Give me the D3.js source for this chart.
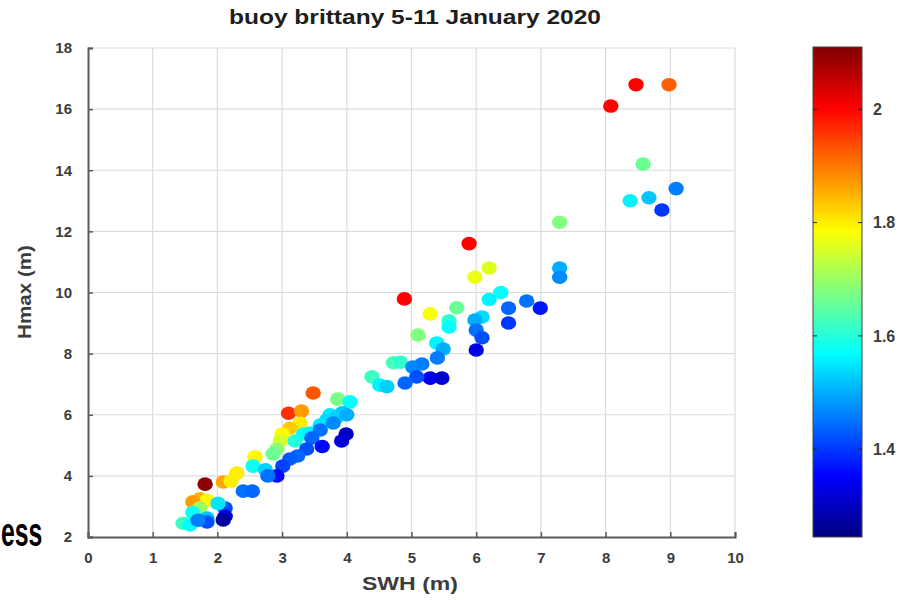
<!DOCTYPE html>
<html>
<head>
<meta charset="utf-8">
<script src="https://cdn.jsdelivr.net/npm/d3@7"></script>
<style>
  html, body { margin: 0; padding: 0; background: #fff; }
  svg { display: block; }
  text { font-family: "Liberation Sans", Arial, Helvetica, sans-serif; }
</style>
</head>
<body>
<script>
// Significant wave height (m) per record
const swh = [
  8.47, 8.98, 8.08, 8.58, 8.38, 8.67, 9.09, 8.87,
  7.29, 7.29, 7.29,
  5.89, 6.20, 5.98, 6.38, 6.20, 6.78, 6.99, 6.50, 6.50, 6.09, 5.98, 6.00, 6.09, 6.00,
  4.89, 5.29, 5.70, 5.58, 5.58, 5.10, 5.39, 5.49, 5.40,
  4.72, 4.83, 5.02, 5.16, 5.29, 5.47, 5.08, 4.90, 4.39, 4.51, 4.62,
  3.48, 3.86, 4.05, 3.93, 3.74, 3.69, 3.59,
  3.10, 3.30, 3.28, 3.12, 3.00, 2.97, 2.92, 2.86,
  3.20, 3.33, 3.43, 3.85, 4.00,
  3.79, 3.59, 3.46, 3.99, 3.92, 3.62, 3.38, 3.24, 3.12, 3.01, 2.92,
  2.58, 2.30, 2.09, 2.21, 2.55, 2.74, 2.78, 2.40, 2.54,
  1.81, 1.73, 1.84, 1.62, 1.73, 1.62, 1.84, 1.47, 1.58, 1.84, 2.12, 2.12, 2.09, 2.01, 1.70
];
// Maximum individual wave height (m) per record
const hmax = [
  16.8, 16.8, 16.1, 14.2, 13.0, 13.1, 13.4, 12.7,
  12.3, 10.8, 10.5,
  11.6, 10.8, 10.5, 10.0, 9.77, 9.72, 9.49, 9.49, 9.00, 9.20, 9.10, 8.77, 8.52, 8.12,
  9.79, 9.30, 9.50, 9.07, 8.87, 8.61, 8.35, 8.15, 7.86,
  7.70, 7.72, 7.56, 7.66, 7.20, 7.20, 7.24, 7.04, 7.24, 6.97, 6.92,
  6.71, 6.51, 6.42, 6.06, 6.00, 5.83, 5.66,
  6.05, 6.12, 5.72, 5.56, 5.37, 5.14, 4.88, 4.72,
  5.14, 5.37, 5.40, 5.93, 6.00,
  5.73, 5.50, 5.24, 5.37, 5.14, 4.96, 4.88, 4.65, 4.55, 4.32, 4.00,
  4.62, 4.09, 3.80, 3.83, 4.32, 4.20, 4.00, 3.50, 3.50,
  3.73, 3.25, 3.20, 3.15, 2.95, 2.80, 2.62, 2.45, 2.40, 2.49, 2.95, 2.68, 2.56, 3.10, 2.55
];
// Hmax / SWH ratio, shown as colour
const ratio = [
  2.00, 1.92, 2.00, 1.66, 1.56, 1.52, 1.46, 1.40,
  1.68, 1.50, 1.47,
  2.00, 1.76, 1.77, 1.57, 1.56, 1.45, 1.37, 1.44, 1.40, 1.54, 1.50, 1.45, 1.42, 1.33,
  2.00, 1.78, 1.66, 1.61, 1.57, 1.68, 1.56, 1.50, 1.46,
  1.63, 1.61, 1.47, 1.46, 1.34, 1.31, 1.42, 1.44, 1.62, 1.56, 1.53,
  1.93, 1.67, 1.57, 1.52, 1.55, 1.54, 1.55,
  1.96, 1.87, 1.80, 1.83, 1.79, 1.75, 1.69, 1.66,
  1.60, 1.58, 1.56, 1.53, 1.50,
  1.47, 1.45, 1.44, 1.30, 1.32, 1.36, 1.42, 1.44, 1.43, 1.41, 1.36,
  1.79, 1.80, 1.86, 1.80, 1.58, 1.53, 1.45, 1.45, 1.44,
  2.10, 1.85, 1.79, 1.87, 1.70, 1.58, 1.52, 1.62, 1.57, 1.42, 1.42, 1.33, 1.27, 1.55, 1.46
];

const xTicks = [0, 1, 2, 3, 4, 5, 6, 7, 8, 9, 10];
const yTicks = [2, 4, 6, 8, 10, 12, 14, 16, 18];
const cTicks = [1.4, 1.6, 1.8, 2];
const cDomain = [1.245, 2.11];

const chartTitle = "buoy brittany 5-11 January 2020";
const xTitle = "SWH (m)";
const yTitle = "Hmax (m)";
const sideWord = "ess";

const W = 921, H = 600;
const plot = { left: 88, right: 735, top: 48, bottom: 537 };
const bar = { left: 813, right: 862, top: 47, bottom: 537 };

// MATLAB-style jet colormap
function jet(t) {
  const c = v => Math.max(0, Math.min(1, v));
  const r = c(Math.min(4 * t - 1.5, -4 * t + 4.5));
  const g = c(Math.min(4 * t - 0.5, -4 * t + 3.5));
  const b = c(Math.min(4 * t + 0.5, -4 * t + 2.5));
  return d3.rgb(r * 255, g * 255, b * 255).formatHex();
}

const svg = d3.select("body").append("svg").attr("width", W).attr("height", H);

const x = d3.scaleLinear().domain([0, 10]).range([plot.left, plot.right]);
const y = d3.scaleLinear().domain([2, 18]).range([plot.bottom, plot.top]);
const cNorm = d3.scaleLinear().domain(cDomain).range([0, 1]).clamp(true);
const color = v => jet(cNorm(v));

// grid
const grid = svg.append("g").attr("stroke", "#dcdcdc").attr("stroke-width", 1.2);
grid.selectAll(".gx").data(xTicks.slice(1)).join("line")
  .attr("x1", d => x(d)).attr("x2", d => x(d))
  .attr("y1", plot.top).attr("y2", plot.bottom);
grid.selectAll(".gy").data(yTicks.slice(1)).join("line")
  .attr("x1", plot.left).attr("x2", plot.right)
  .attr("y1", d => y(d)).attr("y2", d => y(d));

// axes
const axisColor = "#5a5a5a";
const xAxis = svg.append("g").attr("transform", `translate(0,${plot.bottom})`)
  .call(d3.axisBottom(x).tickValues(xTicks).tickSize(-5).tickPadding(15).tickFormat(d3.format("d")));
const yAxis = svg.append("g").attr("transform", `translate(${plot.left},0)`)
  .call(d3.axisLeft(y).tickValues(yTicks).tickSize(-5).tickPadding(16).tickFormat(d3.format("d")));
[xAxis, yAxis].forEach(a => {
  a.select(".domain").attr("stroke", axisColor).attr("stroke-width", 2);
  a.selectAll(".tick line").attr("stroke", axisColor).attr("stroke-width", 1.5);
  a.selectAll(".tick text").attr("font-size", 15).attr("font-weight", "bold")
    .attr("fill", "#3c3c3c").attr("font-family", "'Liberation Sans', Arial, sans-serif");
});
xAxis.selectAll(".tick text").attr("dy", "0.71em");

// points
svg.append("g").selectAll("ellipse").data(swh.map((s, i) => ({ s, h: hmax[i], r: ratio[i] })))
  .join("ellipse")
  .attr("cx", d => x(d.s)).attr("cy", d => y(d.h))
  .attr("rx", 7.7).attr("ry", 6.8)
  .attr("fill", d => color(d.r));

// titles
svg.append("text").attr("x", 415).attr("y", 24).attr("text-anchor", "middle")
  .attr("font-size", 20).attr("font-weight", "bold").attr("fill", "#1e1e1e")
  .attr("textLength", 372).attr("lengthAdjust", "spacingAndGlyphs")
  .text(chartTitle);
svg.append("text").attr("x", 410).attr("y", 590).attr("text-anchor", "middle")
  .attr("font-size", 18).attr("font-weight", "bold").attr("fill", "#3c3c3c")
  .attr("textLength", 96).attr("lengthAdjust", "spacingAndGlyphs")
  .text(xTitle);
svg.append("text").attr("transform", "translate(31,292) rotate(-90)").attr("text-anchor", "middle")
  .attr("font-size", 18).attr("font-weight", "bold").attr("fill", "#3c3c3c")
  .attr("textLength", 94).attr("lengthAdjust", "spacingAndGlyphs")
  .text(yTitle);

// colorbar
const defs = svg.append("defs");
const grad = defs.append("linearGradient").attr("id", "jetbar")
  .attr("x1", 0).attr("y1", 1).attr("x2", 0).attr("y2", 0);
d3.range(0, 1.0001, 1 / 64).forEach(t => {
  grad.append("stop").attr("offset", t).attr("stop-color", jet(t));
});
svg.append("rect").attr("x", bar.left).attr("y", bar.top)
  .attr("width", bar.right - bar.left).attr("height", bar.bottom - bar.top)
  .attr("fill", "url(#jetbar)").attr("stroke", "#444").attr("stroke-width", 1);

const cy = d3.scaleLinear().domain(cDomain).range([bar.bottom, bar.top]);
const cb = svg.append("g");
cb.selectAll(".tl").data(cTicks).join("line")
  .attr("x1", bar.left).attr("x2", bar.left + 4)
  .attr("y1", d => cy(d)).attr("y2", d => cy(d)).attr("stroke", "#222");
cb.selectAll(".tr").data(cTicks).join("line")
  .attr("x1", bar.right - 4).attr("x2", bar.right)
  .attr("y1", d => cy(d)).attr("y2", d => cy(d)).attr("stroke", "#222");
cb.selectAll("text").data(cTicks).join("text")
  .attr("x", bar.right + 11).attr("y", d => cy(d)).attr("dy", "0.35em")
  .attr("font-size", 16).attr("font-weight", "bold").attr("fill", "#3c3c3c")
  .text(d => d3.format("~g")(d));

// partial word at the lower-left edge, horizontally condensed
svg.append("text").attr("transform", "translate(1,546) scale(0.62,1)")
  .attr("font-size", 40).attr("font-weight", "bold").attr("fill", "#000")
  .attr("font-family", "'Open Sans', 'Liberation Sans', sans-serif")
  .text(sideWord);
</script>
</body>
</html>
